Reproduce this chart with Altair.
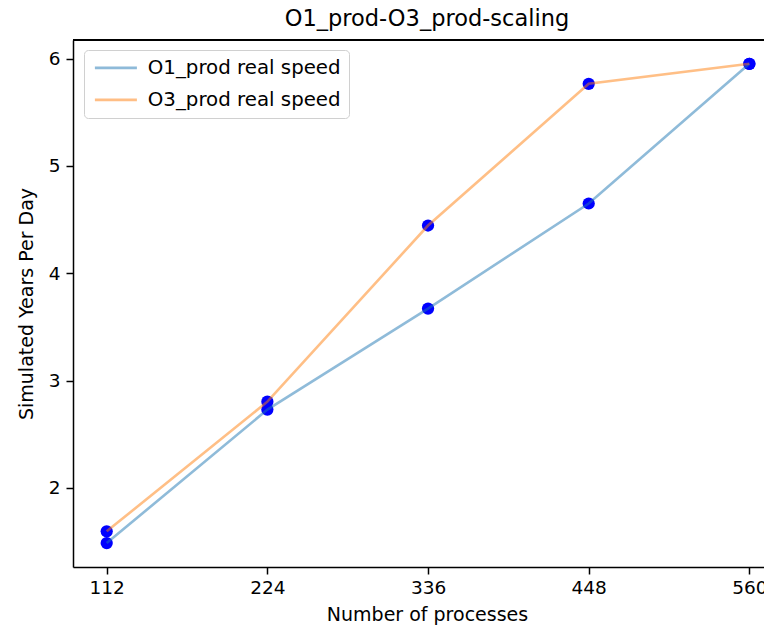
import altair as alt
import pandas as pd

processes = [112, 224, 336, 448, 560]
o1_speed = [1.487, 2.73, 3.671, 4.650, 5.951]
o3_speed = [1.596, 2.804, 4.445, 5.765, 5.951]
series_names = ["O1_prod real speed", "O3_prod real speed"]
x_ticks = [112, 224, 336, 448, 560]
y_ticks = [2, 3, 4, 5, 6]

rows = []
for name, vals in zip(series_names, [o1_speed, o3_speed]):
    for p, v in zip(processes, vals):
        rows.append({"processes": p, "speed": v, "series": name})
df = pd.DataFrame(rows)

FONT = "DejaVu Sans"
W, H = 691, 527

xs = alt.Scale(domain=[88.5, 570.2], nice=False, zero=False)
ys = alt.Scale(domain=[1.264, 6.173], nice=False, zero=False)

x_enc = alt.X(
    "processes:Q", scale=xs,
    axis=alt.Axis(values=x_ticks, format="d", title="Number of processes", grid=False,
                  domainColor="black", domainWidth=1.5, tickColor="black",
                  tickWidth=1.5, tickSize=7, labelPadding=4, labelFontSize=18.5,
                  labelColor="black", labelFont=FONT, titleFont=FONT,
                  titleFontSize=19, titleFontWeight="normal", titleColor="black",
                  titleX=354, titleY=38, titleBaseline="top"),
)
y_enc = alt.Y(
    "speed:Q", scale=ys,
    axis=alt.Axis(values=y_ticks, format="d", title="Simulated Years Per Day", grid=False,
                  domainColor="black", domainWidth=1.5, tickColor="black",
                  tickWidth=1.5, tickSize=7, labelPadding=6, labelFontSize=18.5,
                  labelColor="black", labelFont=FONT, titleFont=FONT,
                  titleFontSize=19, titleFontWeight="normal", titleColor="black",
                  titlePadding=12),
)

points = alt.Chart(df).mark_circle(color="#0000ff", opacity=1, size=150).encode(
    x=x_enc, y=y_enc
)

lines = alt.Chart(df).mark_line(strokeWidth=2.6, opacity=0.5).encode(
    x=alt.X("processes:Q", scale=xs),
    y=alt.Y("speed:Q", scale=ys),
    color=alt.Color(
        "series:N",
        scale=alt.Scale(domain=series_names, range=["#1f77b4", "#ff7f0e"]),
        legend=alt.Legend(
            title=None, orient="none", legendX=11, legendY=10,
            symbolType="M-3,0L3,0", symbolSize=196, symbolStrokeWidth=2.6,
            symbolOffset=14, symbolOpacity=0.5, labelFont=FONT, labelFontSize=19.8,
            labelColor="black", labelOffset=22, rowPadding=11,
            labelLimit=400, padding=8, fillColor="white",
            strokeColor="#d0d0d0", cornerRadius=4,
        ),
    ),
)

top_border = alt.Chart(df).mark_rule(color="black", strokeWidth=1.5).encode(
    x=alt.value(0), x2=alt.value(W), y=alt.value(0)
)

chart = alt.layer(points, lines, top_border).properties(
    width=W, height=H,
    title=alt.TitleParams("O1_prod-O3_prod-scaling", font=FONT, fontSize=22.5,
                          fontWeight="normal", color="black", anchor="middle",
                          dx=8.5, offset=9),
    autosize=alt.AutoSizeParams(type="none"),
    padding={"left": 73, "top": 40, "right": 0, "bottom": 60},
).configure_view(stroke=None).configure(background="white")

chart.save("out.html", embed_options={"renderer": "svg", "actions": False})
